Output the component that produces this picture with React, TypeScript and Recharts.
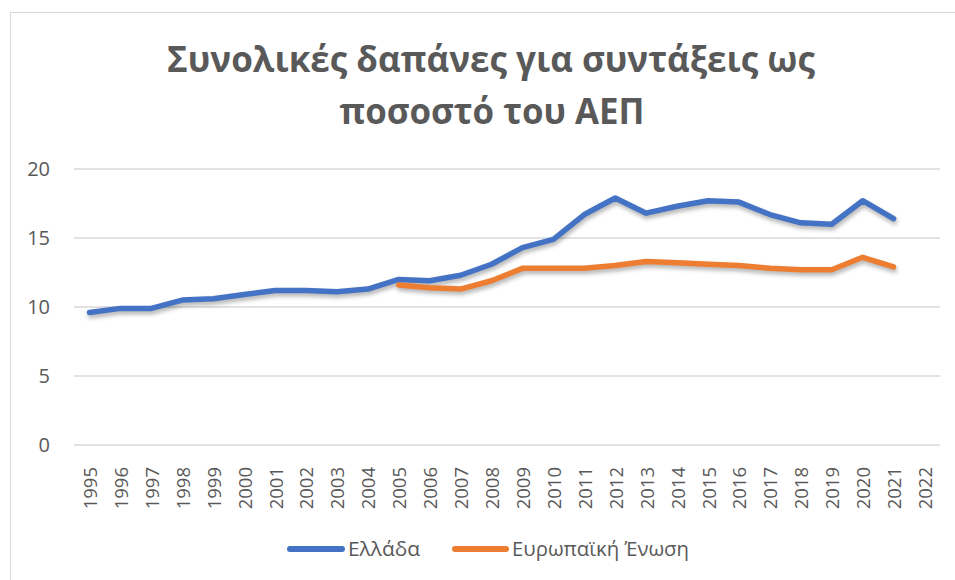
import React from "react";
import { LineChart, Line, XAxis, YAxis, CartesianGrid, Legend } from "recharts";

const years = [
    "1995", "1996", "1997", "1998", "1999", "2000", "2001", "2002", "2003", "2004",
    "2005", "2006", "2007", "2008", "2009", "2010", "2011", "2012", "2013", "2014",
    "2015", "2016", "2017", "2018", "2019", "2020", "2021", "2022",
];

const greece = [
    9.6, 9.9, 9.9, 10.5, 10.6, 10.9, 11.2, 11.2, 11.1, 11.3,
    12.0, 11.9, 12.3, 13.1, 14.3, 14.9, 16.7, 17.9, 16.8, 17.3,
    17.7, 17.6, 16.7, 16.1, 16.0, 17.7, 16.4, null,
];

const eu = [
    null, null, null, null, null, null, null, null, null, null,
    11.6, 11.4, 11.3, 11.9, 12.8, 12.8, 12.8, 13.0, 13.3, 13.2,
    13.1, 13.0, 12.8, 12.7, 12.7, 13.6, 12.9, null,
];

const yTicks = [0, 5, 10, 15, 20];

const titleLines = ["Συνολικές δαπάνες για συντάξεις ως", "ποσοστό του ΑΕΠ"];
const seriesNames = ["Ελλάδα", "Ευρωπαϊκή Ένωση"];

const data = years.map((y, i) => ({ year: y, gr: greece[i], eu: eu[i] }));

const FONT = "'Open Sans', sans-serif";
const TEXT = "#595959";
const BLUE = "#4472C4";
const ORANGE = "#ED7D31";

const YearTick = (props: any) => {
    const { x, y, payload } = props;
    const ty = y + 14;
    return (
        <text
            x={x}
            y={ty}
            transform={`rotate(-90, ${x}, ${ty})`}
            textAnchor="end"
            dominantBaseline="central"
            fill={TEXT}
            fontSize={18.5}
            fontFamily={FONT}
        >
            {payload.value}
        </text>
    );
};

// legend drawn as svg so the text widths match the original
const LegendBox = () => (
    <svg width={955} height={30} style={{ display: "block" }}>
        <line x1={290} y1={14} x2={342} y2={14} stroke={BLUE} strokeWidth={6} strokeLinecap="round" />
        <text x={348} y={21} fontFamily={FONT} fontSize={20} fill={TEXT} textLength={72} lengthAdjust="spacingAndGlyphs">
            {seriesNames[0]}
        </text>
        <line x1={455} y1={14} x2={506} y2={14} stroke={ORANGE} strokeWidth={6} strokeLinecap="round" />
        <text x={512} y={21} fontFamily={FONT} fontSize={20} fill={TEXT} textLength={177} lengthAdjust="spacingAndGlyphs">
            {seriesNames[1]}
        </text>
    </svg>
);

export default function App() {
    return (
        <div style={{ position: "absolute", left: 0, top: 0, width: 955, height: 580, overflow: "hidden", background: "#fff" }}>
            <div
                style={{
                    position: "absolute",
                    left: 10,
                    top: 12,
                    width: 980,
                    height: 600,
                    border: "1.5px solid #D9D9D9",
                }}
            />
            <svg width={955} height={140} style={{ position: "absolute", left: 0, top: 0 }}>
                <text
                    x={491}
                    y={72}
                    textAnchor="middle"
                    fontFamily={FONT}
                    fontWeight={700}
                    fontSize={35}
                    fill={TEXT}
                    textLength={648}
                    lengthAdjust="spacingAndGlyphs"
                >
                    {titleLines[0]}
                </text>
                <text
                    x={492}
                    y={124}
                    textAnchor="middle"
                    fontFamily={FONT}
                    fontWeight={700}
                    fontSize={35}
                    fill={TEXT}
                    textLength={305}
                    lengthAdjust="spacingAndGlyphs"
                >
                    {titleLines[1]}
                </text>
            </svg>
            <div style={{ position: "absolute", left: 0, top: 0 }}>
                <LineChart
                    width={955}
                    height={580}
                    data={data}
                    margin={{ top: 169, right: 15, bottom: 0, left: 0 }}
                >
                    <CartesianGrid vertical={false} stroke="#D9D9D9" strokeWidth={1.5} />
                    <XAxis
                        dataKey="year"
                        axisLine={false}
                        tickLine={false}
                        interval={0}
                        height={135}
                        padding={{ left: 15.5, right: 15.5 }}
                        tick={<YearTick />}
                    />
                    <YAxis
                        domain={[0, 20]}
                        ticks={yTicks}
                        axisLine={false}
                        tickLine={false}
                        width={74}
                        tickSize={0}
                        tickMargin={24}
                        tick={{ fill: TEXT, fontSize: 20, fontFamily: FONT }}
                    />
                    <Line
                        dataKey="gr"
                        name={seriesNames[0]}
                        stroke={BLUE}
                        strokeWidth={5.5}
                        strokeLinecap="round"
                        strokeLinejoin="round"
                        dot={false}
                        isAnimationActive={false}
                        style={{ filter: "drop-shadow(1px 3px 2px rgba(0,0,0,0.3))" }}
                    />
                    <Line
                        dataKey="eu"
                        name={seriesNames[1]}
                        stroke={ORANGE}
                        strokeWidth={5.5}
                        strokeLinecap="round"
                        strokeLinejoin="round"
                        dot={false}
                        isAnimationActive={false}
                        style={{ filter: "drop-shadow(1px 3px 2px rgba(0,0,0,0.3))" }}
                    />
                    <Legend
                        content={<LegendBox />}
                        wrapperStyle={{ position: "absolute", top: 535, left: 0, width: 955, height: 0, bottom: "auto", overflow: "visible" }}
                    />
                </LineChart>
            </div>
        </div>
    );
}
